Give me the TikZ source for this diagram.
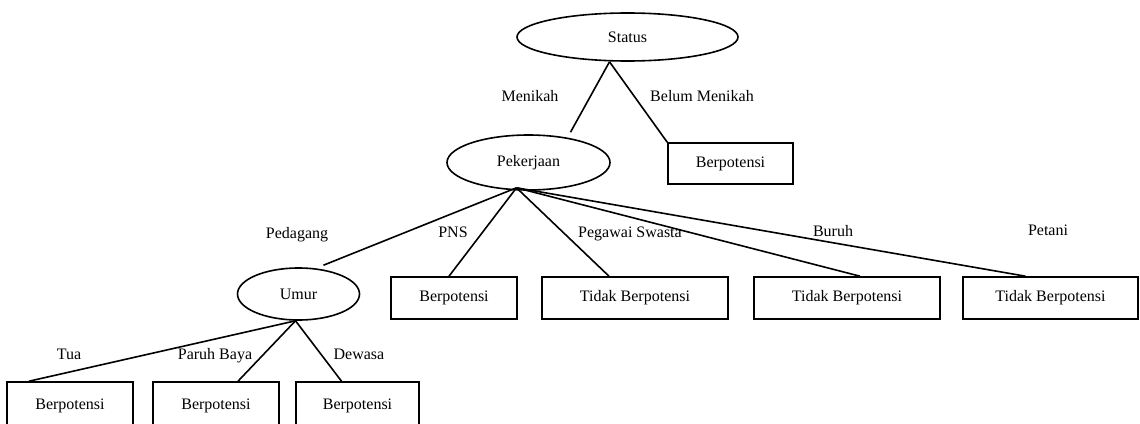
\documentclass[tikz,border=0pt]{standalone}
\usepackage{fontspec}
\setmainfont{Liberation Serif}
\usetikzlibrary{shapes.geometric}
\begin{document}
\begin{tikzpicture}[x=1pt,y=-1pt,
  every node/.style={font=\fontsize{16}{19}\selectfont, inner sep=0pt},
  attr/.style={draw, ellipse, line width=1.6pt},
  leaf/.style={draw, rectangle, line width=1.6pt},
  edge/.style={line width=1.6pt},
  lbl/.style={anchor=base}]
\useasboundingbox (0,0) rectangle (1140,423);
\clip (0,0) rectangle (1140,423);
% attribute nodes
\node[attr, minimum width=221pt, minimum height=48pt] (status) at (627.5,37) {Status};
\node[attr, minimum width=163pt, minimum height=55pt] (pek) at (528.5,162.5) {Pekerjaan};
\node[attr, minimum width=122pt, minimum height=52pt] (umur) at (298.5,294) {Umur};
% leaves
\node[leaf, minimum width=125pt, minimum height=41pt] (bm) at (730.5,163.5) {Berpotensi};
\node[leaf, minimum width=126pt, minimum height=42pt] (pns) at (454,298) {Berpotensi};
\node[leaf, minimum width=186pt, minimum height=42pt] (swasta) at (635,298) {Tidak Berpotensi};
\node[leaf, minimum width=186pt, minimum height=42pt] (buruh) at (847,298) {Tidak Berpotensi};
\node[leaf, minimum width=175pt, minimum height=42pt] (petani) at (1050.5,298) {Tidak Berpotensi};
\node[leaf, minimum width=126pt, minimum height=48pt] (tua) at (70,406) {Berpotensi};
\node[leaf, minimum width=126pt, minimum height=48pt] (paruh) at (216,406) {Berpotensi};
\node[leaf, minimum width=123pt, minimum height=48pt] (dewasa) at (357.5,406) {Berpotensi};
% connectors
\draw[edge] ([xshift=-18pt]status.south) -- ([xshift=42pt,yshift=2pt]pek.north);
\draw[edge] ([xshift=-18pt]status.south) -- (bm.north west);
\draw[edge] ([xshift=-12pt,yshift=3pt]pek.south) -- ([xshift=25pt,yshift=2pt]umur.north);
\draw[edge] ([xshift=-12pt,yshift=3pt]pek.south) -- ([xshift=-5pt]pns.north);
\draw[edge] ([xshift=-12pt,yshift=3pt]pek.south) -- ([xshift=-26pt]swasta.north);
\draw[edge] ([xshift=-12pt,yshift=3pt]pek.south) -- ([xshift=13pt]buruh.north);
\draw[edge] ([xshift=-12pt,yshift=3pt]pek.south) -- ([xshift=-25pt]petani.north);
\draw[edge] ([xshift=-3pt]umur.south) -- ([xshift=-41pt]tua.north);
\draw[edge] ([xshift=-3pt]umur.south) -- ([xshift=22pt]paruh.north);
\draw[edge] ([xshift=-3pt]umur.south) -- ([xshift=-16pt]dewasa.north);
% edge labels
\node[lbl] (lmenikah) at (530,101) {Menikah};
\node[lbl] (lbelum) at (702,101) {Belum Menikah};
\node[lbl] (lpedagang) at (297,238) {Pedagang};
\node[lbl] (lpns) at (453,237) {PNS};
\node[lbl] (lswasta) at (630,237) {Pegawai Swasta};
\node[lbl] (lburuh) at (833,236) {Buruh};
\node[lbl] (lpetani) at (1048,235) {Petani};
\node[lbl] (ltua) at (69,359) {Tua};
\node[lbl] (lparuh) at (215,359) {Paruh Baya};
\node[lbl] (ldewasa) at (359,359) {Dewasa};
\end{tikzpicture}
\end{document}
